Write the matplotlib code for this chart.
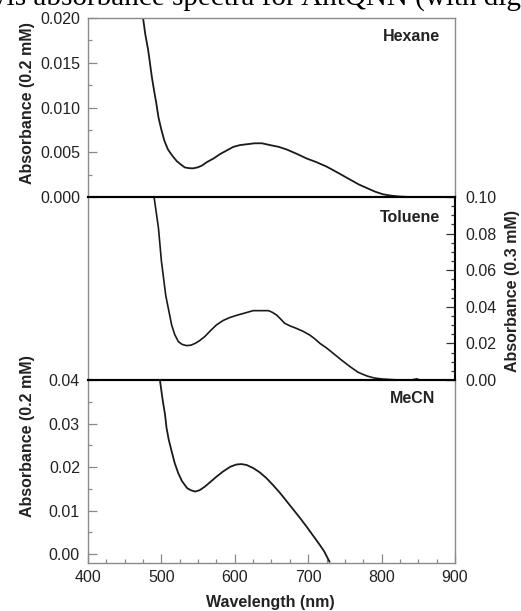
import numpy as np
import matplotlib
matplotlib.use("Agg")
import matplotlib.pyplot as plt
from matplotlib.ticker import MultipleLocator, FormatStrFormatter

# Absorbance spectra read for the three solvents
hex_wl = [475, 478, 482, 487, 490, 493, 496, 500, 504, 509, 515, 521, 527, 532, 538,
          543, 549, 555, 562, 571, 580, 589, 598, 607, 617, 627, 637, 648, 660, 671,
          685, 698, 711, 725, 734, 745, 758, 769, 780, 791, 802, 813, 825, 840, 856]
hex_abs = [0.0200, 0.0182, 0.0164, 0.0134, 0.0119, 0.0105, 0.0089, 0.0075, 0.0063,
           0.0053, 0.0046, 0.0040, 0.0036, 0.0033, 0.00322, 0.0032, 0.0033, 0.0035,
           0.0039, 0.0043, 0.0048, 0.0052, 0.0056, 0.0058, 0.0059, 0.0060, 0.0060,
           0.0058, 0.0056, 0.0053, 0.0048, 0.0043, 0.0039, 0.0034, 0.0030, 0.0025,
           0.0019, 0.0014, 0.0010, 0.0006, 0.0003, 0.00015, 0.00005, 0.0, 0.0]

tol_wl = [490, 496, 500, 506, 514, 518, 523, 528, 534, 540, 546, 552, 559, 567, 575,
          584, 593, 603, 612, 625, 635, 646, 651, 657, 662, 668, 675, 684, 693, 702,
          709, 716, 725, 734, 745, 757, 768, 780, 790, 802, 815, 825, 840, 848, 852]
tol_abs = [0.100, 0.083, 0.065, 0.046, 0.030, 0.025, 0.021, 0.0195, 0.0188, 0.0190,
           0.0200, 0.0215, 0.0237, 0.0270, 0.0301, 0.0325, 0.0341, 0.0354, 0.0364,
           0.0379, 0.0379, 0.0379, 0.0370, 0.0355, 0.0335, 0.0310, 0.0296, 0.0282,
           0.0266, 0.0246, 0.0225, 0.0200, 0.0175, 0.0146, 0.0110, 0.0073, 0.0042,
           0.0022, 0.0011, 0.0005, 0.0002, 0.0, 0.0, 0.0006, 0.0]

mecn_wl = [498, 500, 502, 505, 507, 510, 514, 518, 523, 528, 535, 540, 546, 552, 559,
           566, 575, 584, 594, 602, 609, 616, 625, 634, 643, 652, 662, 671, 680, 689,
           698, 707, 716, 722, 729]
mecn_abs = [0.040, 0.0375, 0.0351, 0.0320, 0.0290, 0.0263, 0.0236, 0.0210, 0.0186,
            0.0168, 0.0152, 0.0147, 0.0144, 0.0147, 0.0155, 0.0165, 0.0178, 0.0190,
            0.0201, 0.0206, 0.0207, 0.0205, 0.0198, 0.0188, 0.0175, 0.0159, 0.0140,
            0.0121, 0.0102, 0.0083, 0.0063, 0.0042, 0.0021, 0.0006, -0.0017]

W, H = 521, 611
GRAY = '#8a8a8a'
LINE = '#1a1a1a'
TXT = '#222222'
plt.rcParams['font.family'] = ['Liberation Sans', 'DejaVu Sans']

fig = plt.figure(figsize=(W / 100, H / 100), dpi=100)

def px_axes(left, top, right, bottom):
    return fig.add_axes([left / W, 1 - bottom / H, (right - left) / W, (bottom - top) / H])

ax1 = px_axes(88, 18, 455, 197)
ax2 = px_axes(88, 197, 455, 380)
ax3 = px_axes(88, 380, 455, 563)

for ax in (ax1, ax2, ax3):
    ax.set_xlim(400, 900)
    ax.set_facecolor('none')
    for s in ax.spines.values():
        s.set_color(GRAY)
        s.set_linewidth(1.0)
    ax.tick_params(which='both', direction='in', color=GRAY, width=0.9,
                   labelsize=11.5, labelcolor=TXT)
    ax.tick_params(which='major', length=6.5)
    ax.tick_params(which='minor', length=3)

# black separators between panels
for ax, sides in ((ax1, ['bottom']), (ax2, ['top', 'bottom', 'right']), (ax3, ['top'])):
    for side in sides:
        ax.spines[side].set_color('black')
        ax.spines[side].set_linewidth(1.5)

# top panel: hexane
ax1.plot(hex_wl, hex_abs, color=LINE, lw=1.3)
ax1.set_ylim(0, 0.020)
ax1.yaxis.set_major_locator(MultipleLocator(0.005))
ax1.yaxis.set_minor_locator(MultipleLocator(0.0025))
ax1.yaxis.set_major_formatter(FormatStrFormatter('%.3f'))
ax1.tick_params(axis='y', pad=5.8)
ax1.tick_params(axis='x', which='both', length=0, labelbottom=False)
ax1.text(0.959, 0.899, 'Hexane', transform=ax1.transAxes, ha='right', va='center',
         fontsize=11.5, fontweight='bold', color=TXT)

# middle panel: toluene, right-hand scale
ax2.plot(tol_wl, tol_abs, color=LINE, lw=1.2)
ax2.set_ylim(0, 0.10)
ax2.yaxis.tick_right()
ax2.yaxis.set_major_locator(MultipleLocator(0.02))
ax2.yaxis.set_minor_locator(MultipleLocator(0.005))
ax2.yaxis.set_major_formatter(FormatStrFormatter('%.2f'))
ax2.tick_params(axis='y', which='both', color='#333333', pad=7.2)
ax2.tick_params(axis='x', which='both', length=0, labelbottom=False)
ax2.text(0.959, 0.889, 'Toluene', transform=ax2.transAxes, ha='right', va='center',
         fontsize=11.5, fontweight='bold', color=TXT)

# bottom panel: acetonitrile
ax3.plot(mecn_wl, mecn_abs, color=LINE, lw=1.3)
ax3.set_ylim(-0.002, 0.04)
ax3.yaxis.set_major_locator(MultipleLocator(0.01))
ax3.yaxis.set_minor_locator(MultipleLocator(0.005))
ax3.yaxis.set_major_formatter(FormatStrFormatter('%.2f'))
ax3.set_yticks([0, 0.01, 0.02, 0.03, 0.04])
ax3.xaxis.set_major_locator(MultipleLocator(100))
ax3.xaxis.set_minor_locator(MultipleLocator(25))
ax3.tick_params(axis='y', pad=5.8)
ax3.tick_params(axis='x', pad=5)
ax3.text(0.946, 0.90, 'MeCN', transform=ax3.transAxes, ha='right', va='center',
         fontsize=11.5, fontweight='bold', color=TXT)

lab = dict(fontsize=11.5, fontweight='bold', color=TXT, ha='center', va='center')
fig.text(28 / W, 1 - 103 / H, 'Absorbance (0.2 mM)', rotation=90, **lab)
fig.text(28 / W, 1 - 436 / H, 'Absorbance (0.2 mM)', rotation=90, **lab)
fig.text(513 / W, 1 - 291 / H, 'Absorbance (0.3 mM)', rotation=90, **lab)
fig.text(270 / W, 1 - 602 / H, 'Wavelength (nm)', **lab)

# caption running along the top edge
fig.text(-8 / W, 1 - 6 / H, 'vis absorbance spectra for AntQNN (with digital',
         family='Liberation Serif', fontsize=21, va='baseline', ha='left', color='black')

fig.savefig('out.png', dpi=100)
